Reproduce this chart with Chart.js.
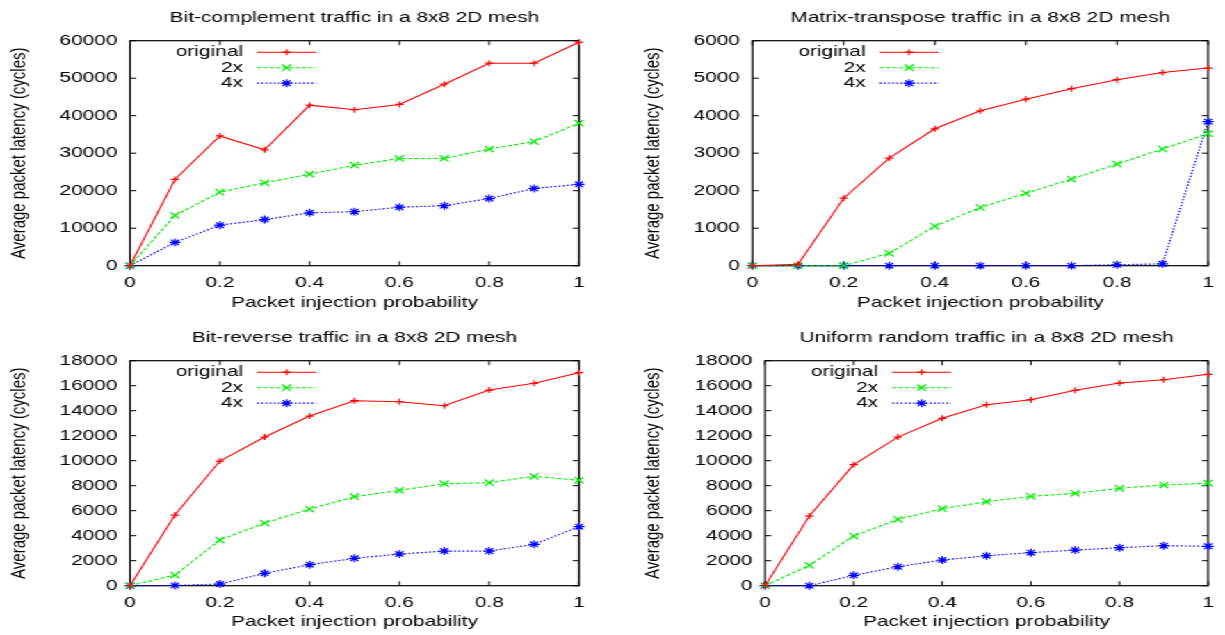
<!DOCTYPE html>
<html>
<head>
<meta charset="utf-8">
<script src="https://cdn.jsdelivr.net/npm/chart.js@4/dist/chart.umd.min.js"></script>
<style>
html,body{margin:0;padding:0;background:#fff;overflow:hidden;width:1225px;height:635px;}
#stage{position:absolute;left:0;top:0;width:881px;height:635px;transform:scaleX(1.3905);transform-origin:0 0;}
.box{position:absolute;}
</style>
</head>
<body>
<div id="stage">
  <div class="box" style="left:0;top:0;width:440px;height:320px"><canvas id="c1"></canvas></div>
  <div class="box" style="left:440px;top:0;width:441px;height:320px"><canvas id="c2"></canvas></div>
  <div class="box" style="left:0;top:320px;width:440px;height:315px"><canvas id="c3"></canvas></div>
  <div class="box" style="left:440px;top:320px;width:441px;height:315px"><canvas id="c4"></canvas></div>
</div>
<script>
// ---------- data ----------
const xValues = [0, 0.1, 0.2, 0.3, 0.4, 0.5, 0.6, 0.7, 0.8, 0.9, 1];
const xTickValues = [0, 0.2, 0.4, 0.6, 0.8, 1];
const xTickLabels = ['0', '0.2', '0.4', '0.6', '0.8', '1'];
const seriesNames = ['original', '2x', '4x'];

const bitComplementTitle = 'Bit-complement traffic in a 8x8 2D mesh';
const bitComplementOriginal = [0, 23000, 34600, 30900, 42800, 41600, 43000, 48400, 54000, 54000, 59600];
const bitComplement2x = [0, 13400, 19600, 22100, 24400, 26800, 28600, 28600, 31100, 33100, 38000];
const bitComplement4x = [0, 6200, 10800, 12300, 14100, 14400, 15600, 16000, 17900, 20600, 21700];
const bitComplementYTicks = [0, 10000, 20000, 30000, 40000, 50000, 60000];
const bitComplementYLabels = ['0', '10000', '20000', '30000', '40000', '50000', '60000'];

const matrixTitle = 'Matrix-transpose traffic in a 8x8 2D mesh';
const matrixOriginal = [0, 40, 1800, 2870, 3650, 4130, 4440, 4720, 4960, 5150, 5270];
const matrix2x = [0, 0, 0, 330, 1050, 1550, 1930, 2310, 2710, 3110, 3520];
const matrix4x = [0, 0, 0, 0, 0, 0, 0, 0, 25, 50, 3840];
const matrixYTicks = [0, 1000, 2000, 3000, 4000, 5000, 6000];
const matrixYLabels = ['0', '1000', '2000', '3000', '4000', '5000', '6000'];

const bitReverseTitle = 'Bit-reverse traffic in a 8x8 2D mesh';
const bitReverseOriginal = [0, 5650, 9970, 11890, 13570, 14800, 14720, 14400, 15650, 16190, 17040];
const bitReverse2x = [0, 850, 3650, 5010, 6130, 7120, 7630, 8160, 8240, 8750, 8430];
const bitReverse4x = [0, 20, 130, 990, 1680, 2190, 2530, 2770, 2770, 3310, 4720];

const uniformTitle = 'Uniform random traffic in a 8x8 2D mesh';
const uniformOriginal = [0, 5570, 9680, 11890, 13390, 14480, 14880, 15630, 16210, 16480, 16910];
const uniform2x = [0, 1630, 3970, 5310, 6160, 6720, 7150, 7390, 7790, 8050, 8210];
const uniform4x = [0, 0, 830, 1520, 2050, 2400, 2640, 2850, 3040, 3200, 3150];

const latency18kYTicks = [0, 2000, 4000, 6000, 8000, 10000, 12000, 14000, 16000, 18000];
const latency18kYLabels = ['0', '2000', '4000', '6000', '8000', '10000', '12000', '14000', '16000', '18000'];

const xAxisTitle = 'Packet injection probability';
const yAxisTitle = 'Average packet latency (cycles)';

// ---------- styles ----------
const FONT = "'Liberation Sans', Arial, Helvetica, sans-serif";
const seriesStyles = [
  {color: '#ff0000', dash: [], point: 'cross', r: 3, pbw: 1.2, bw: 1.1},
  {color: '#00ee00', dash: [3, 1.6], point: 'crossRot', r: 4.5, pbw: 1.2, bw: 1.1},
  {color: '#0000ff', dash: [1.4, 1.6], point: 'star', r: 4, pbw: 1.2, bw: 1.2}
];

const framePlugin = {
  id: 'gnuFrame',
  beforeDatasetsDraw(chart) {
    const {ctx, chartArea} = chart;
    const {left, right, top, bottom} = chartArea;
    const xs = chart.scales.x, ys = chart.scales.y;
    ctx.save();
    ctx.strokeStyle = '#000';
    ctx.lineWidth = 1;
    ctx.beginPath();
    xs.ticks.forEach(t => {
      const px = xs.getPixelForValue(t.value);
      ctx.moveTo(px, bottom); ctx.lineTo(px, bottom - 4.5);
      ctx.moveTo(px, top); ctx.lineTo(px, top + 4.5);
    });
    ys.ticks.forEach(t => {
      const py = ys.getPixelForValue(t.value);
      ctx.moveTo(left, py); ctx.lineTo(left + 4.5, py);
      ctx.moveTo(right, py); ctx.lineTo(right - 4.5, py);
    });
    ctx.stroke();
    ctx.lineWidth = 1.2;
    ctx.strokeRect(left, top, right - left, bottom - top);
    ctx.restore();
  }
};

const keyPlugin = {
  id: 'gnuKey',
  afterDatasetsDraw(chart) {
    const {ctx, chartArea} = chart;
    const {left, top} = chartArea;
    ctx.save();
    chart.data.datasets.forEach((ds, i) => {
      const yy = top + 11.5 + 15.5 * i;
      ctx.font = '15px ' + FONT;
      ctx.textAlign = 'right';
      ctx.textBaseline = 'middle';
      ctx.fillStyle = '#000';
      ctx.fillText(ds.label, left + 81.3, yy);
      ctx.beginPath();
      ctx.setLineDash(ds.borderDash || []);
      ctx.strokeStyle = ds.borderColor;
      ctx.lineWidth = ds.borderWidth;
      ctx.moveTo(left + 91.4, yy);
      ctx.lineTo(left + 133.8, yy);
      ctx.stroke();
      ctx.setLineDash([]);
      ctx.strokeStyle = ds.pointBorderColor;
      ctx.fillStyle = ds.pointBackgroundColor;
      ctx.lineWidth = ds.pointBorderWidth;
      Chart.helpers.drawPoint(ctx, {pointStyle: ds.pointStyle, radius: ds.pointRadius, rotation: 0, borderWidth: ds.pointBorderWidth}, left + 112.6, yy);
    });
    ctx.restore();
  }
};

function makeChart(c) {
  const datasets = c.series.map((vals, i) => {
    const s = seriesStyles[i];
    return {
      label: seriesNames[i],
      data: xValues.map((x, k) => ({x: x, y: vals[k]})),
      borderColor: s.color,
      backgroundColor: s.color,
      borderWidth: s.bw,
      borderDash: s.dash,
      pointStyle: s.point,
      pointRadius: s.r,
      pointHoverRadius: s.r,
      pointBorderWidth: s.pbw,
      pointBorderColor: s.color,
      pointBackgroundColor: s.color,
      fill: false,
      tension: 0,
      clip: false
    };
  });
  const tickFont = {family: FONT, size: 15};
  return new Chart(document.getElementById(c.id), {
    type: 'line',
    data: {datasets: datasets},
    plugins: [framePlugin, keyPlugin],
    options: {
      responsive: true,
      maintainAspectRatio: false,
      animation: false,
      events: [],
      layout: {padding: {left: 0, right: c.rightPad, top: 0, bottom: 0}},
      plugins: {
        legend: {display: false},
        tooltip: {enabled: false},
        title: {
          display: true, text: c.title, color: '#000', fullSize: false,
          font: {family: FONT, size: 15, weight: 'normal'},
          padding: {top: c.titleTop, bottom: c.titleBottom}
        }
      },
      scales: {
        x: {
          type: 'linear', min: 0, max: 1,
          afterBuildTicks: (s) => { s.ticks = xTickValues.map(v => ({value: v})); },
          afterFit: (s) => { s.height = c.xHeight; },
          grid: {display: false, drawTicks: false},
          border: {display: false},
          ticks: {color: '#000', font: tickFont, padding: 8, maxRotation: 0, autoSkip: false,
                  callback: (v, i) => xTickLabels[i]},
          title: {display: true, text: xAxisTitle, color: '#000',
                  font: {family: FONT, size: 15}, padding: {top: 0, bottom: c.xTitleBottom}}
        },
        y: {
          type: 'linear', min: 0, max: c.yTicks[c.yTicks.length - 1],
          afterBuildTicks: (s) => { s.ticks = c.yTicks.map(v => ({value: v})); },
          afterFit: (s) => { s.width = c.yWidth; },
          grid: {display: false, drawTicks: false},
          border: {display: false},
          ticks: {color: '#000', font: tickFont, padding: 9, autoSkip: false,
                  callback: (v, i) => c.yLabels[i]},
          title: {display: true, text: yAxisTitle, color: '#000',
                  font: {family: FONT, size: 15}, padding: {top: c.yTitleTop, bottom: 0}}
        }
      }
    }
  });
}

makeChart({id: 'c1', title: bitComplementTitle, series: [bitComplementOriginal, bitComplement2x, bitComplement4x],
  yTicks: bitComplementYTicks, yLabels: bitComplementYLabels,
  yWidth: 93.5, rightPad: 23.6, yTitleTop: 5, titleTop: 9, titleBottom: 13.7, xHeight: 54.3, xTitleBottom: 8.5});
makeChart({id: 'c2', title: matrixTitle, series: [matrixOriginal, matrix2x, matrix4x],
  yTicks: matrixYTicks, yLabels: matrixYLabels,
  yWidth: 101.2, rightPad: 7.9, yTitleTop: 21, titleTop: 9, titleBottom: 13.7, xHeight: 54.3, xTitleBottom: 8.5});
makeChart({id: 'c3', title: bitReverseTitle, series: [bitReverseOriginal, bitReverse2x, bitReverse4x],
  yTicks: latency18kYTicks, yLabels: latency18kYLabels,
  yWidth: 93.5, rightPad: 23.6, yTitleTop: 5, titleTop: 8.5, titleBottom: 14.2, xHeight: 49.3, xTitleBottom: 4});
makeChart({id: 'c4', title: uniformTitle, series: [uniformOriginal, uniform2x, uniform4x],
  yTicks: latency18kYTicks, yLabels: latency18kYLabels,
  yWidth: 110.2, rightPad: 7.9, yTitleTop: 21, titleTop: 8.5, titleBottom: 14.2, xHeight: 49.3, xTitleBottom: 4});
</script>
</body>
</html>
